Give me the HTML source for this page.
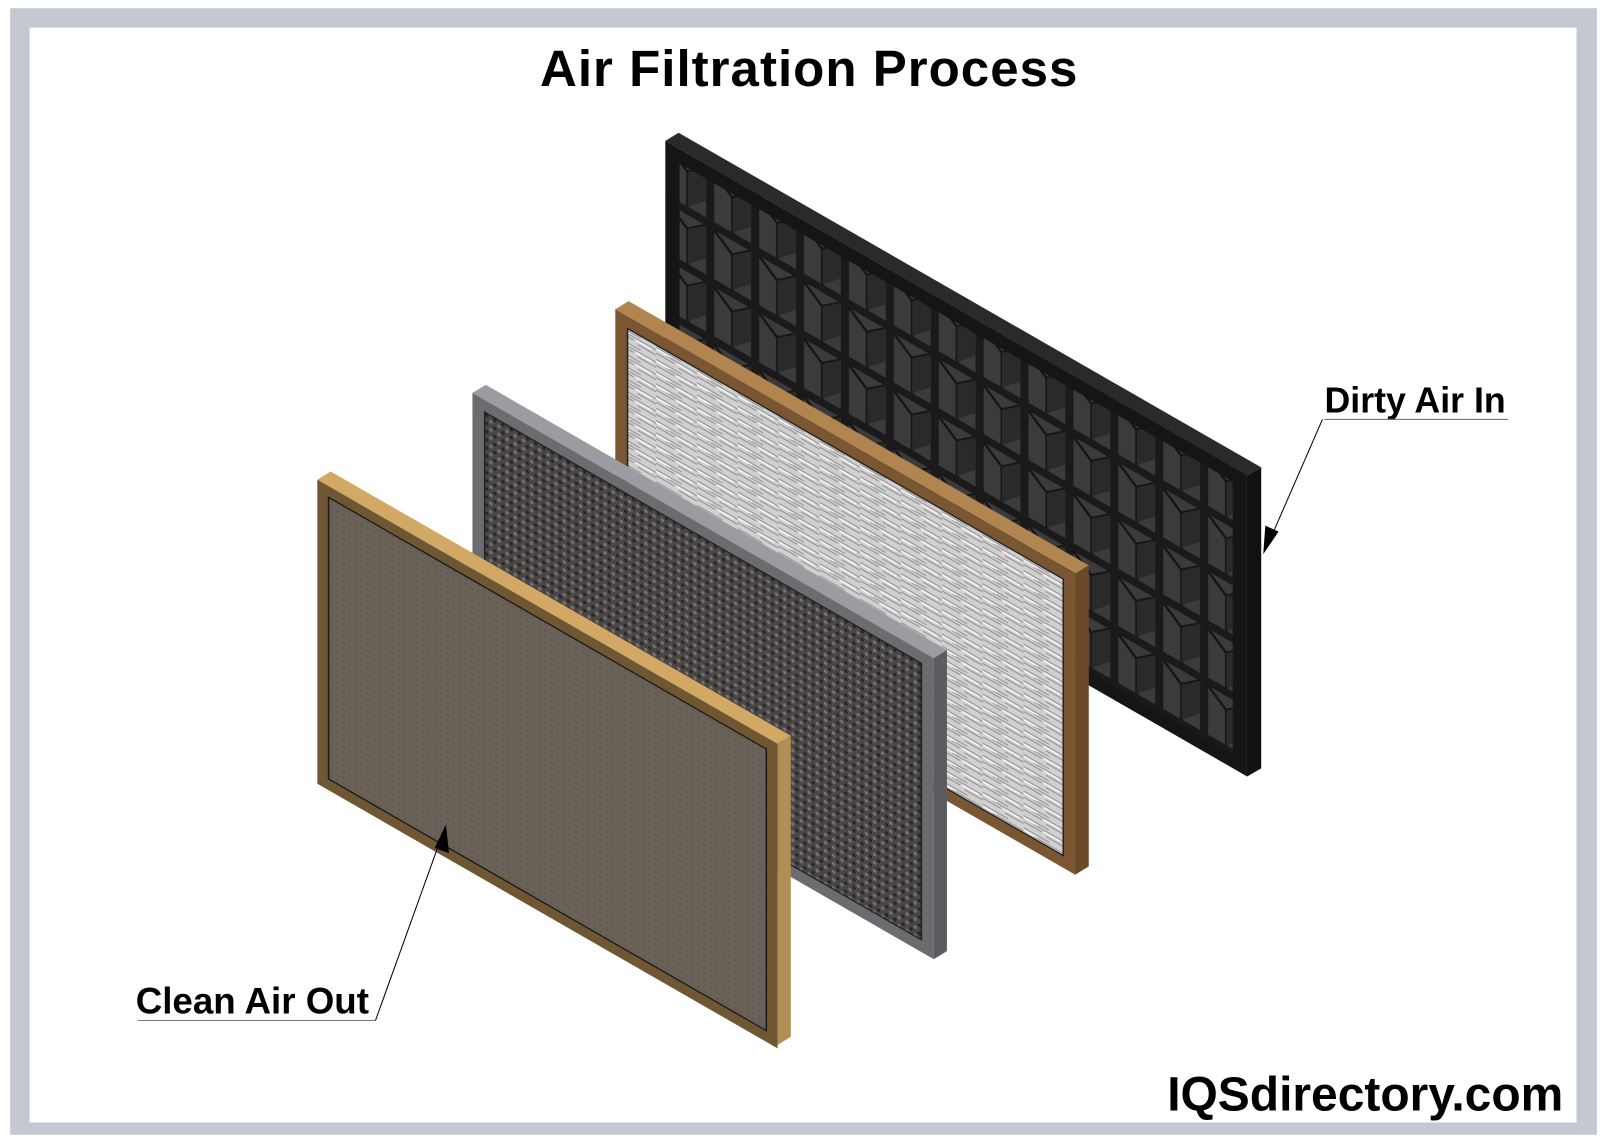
<!DOCTYPE html>
<html><head><meta charset="utf-8"><style>html,body{margin:0;padding:0;background:#fff}svg{display:block}</style></head>
<body>
<svg width="1600" height="1145" viewBox="0 0 1568 1122" xmlns="http://www.w3.org/2000/svg">
<defs>
<pattern id="hex" width="44" height="56" patternUnits="userSpaceOnUse">
<rect width="44" height="56" fill="#1a1a1a"/>
<path d="M4 4 H40 V52 H4 Z" fill="#3c3b3c"/>
<path d="M4 4 L22 18 V52 M22 18 L40 4" stroke="#151515" stroke-width="3" fill="none"/>
<path d="M22 18 L40 4 V36 L22 52 Z" fill="#2b2a2b"/>
</pattern>
<pattern id="fiber" width="40" height="12" patternUnits="userSpaceOnUse">
<rect width="40" height="12" fill="#d0d0d0"/>
<path d="M0 2 H25 M10 5 H40 M0 8 H18 M22 10 H40" stroke="#8a8a8a" stroke-width="1"/>
<path d="M0 4 H14 M20 7 H36" stroke="#fff" stroke-width="1.2"/>
</pattern>
<pattern id="knit" width="8" height="8" patternUnits="userSpaceOnUse">
<rect width="8" height="8" fill="#4a4646"/>
<circle cx="2" cy="2" r="1.6" fill="#7a7575"/>
<circle cx="6" cy="6" r="1.6" fill="#262424"/>
</pattern>
<pattern id="cloth" width="6" height="6" patternUnits="userSpaceOnUse">
<rect width="6" height="6" fill="#6a6259"/>
<rect x="0" y="0" width="3" height="3" fill="#645c53"/>
</pattern>
</defs>
<rect x="10" y="8" width="1555" height="1104" fill="#c3c8d1"/>
<rect x="29" y="27" width="1516" height="1073" fill="#fff"/>
<text x="793" y="84" text-anchor="middle" font-family="Liberation Sans, sans-serif" font-weight="bold" font-size="50" letter-spacing="1" fill="#000">Air Filtration Process</text>

<!-- Panel 1 black -->
<polygon points="652,138 665,130 1236,458 1222,466" fill="#2a2a2a"/>
<polygon points="1222,466 1236,458 1236,753 1222,761" fill="#111"/>
<g transform="matrix(1,0.575,0,1,652,138)">
<rect width="570" height="295" fill="#151515"/>
<rect x="14" y="14" width="542" height="267" fill="url(#hex)"/>
</g>

<!-- Panel 2 fiber -->
<polygon points="603,303 616,295 1067,554 1054,562" fill="#b08550"/>
<polygon points="1054,562 1067,554 1067,849 1054,857" fill="#6b4a2a"/>
<g transform="matrix(1,0.575,0,1,603,303)">
<rect width="451" height="295" fill="#7a5632"/>
<rect x="12" y="12" width="427" height="271" fill="url(#fiber)" stroke="#222" stroke-width="1.5"/>
</g>

<!-- Panel 3 gray -->
<polygon points="463,385 476,377 928,637 915,645" fill="#9a9ca2"/>
<polygon points="915,645 928,637 928,932 915,940" fill="#5a5c60"/>
<g transform="matrix(1,0.575,0,1,463,385)">
<rect width="452" height="295" fill="#6a6c70"/>
<rect x="12" y="12" width="428" height="271" fill="url(#knit)" stroke="#222" stroke-width="1.5"/>
</g>

<!-- Panel 4 front -->
<polygon points="311,470 324,462 775,721 762,729" fill="#d2a865"/>
<polygon points="762,729 775,721 775,1016 762,1024" fill="#b08e55"/>
<g transform="matrix(1,0.575,0,1,311,470)">
<rect width="451" height="298" fill="#6f5733"/>
<rect x="11" y="11" width="429" height="276" fill="url(#cloth)" stroke="#1a1a1a" stroke-width="1.5"/>
</g>

<!-- Labels -->
<g font-family="Liberation Sans, sans-serif" font-weight="bold" fill="#000">
<text x="1298" y="404" font-size="35">Dirty Air In</text>
<text x="133" y="993" font-size="36">Clean Air Out</text>
</g>
<line x1="1298" y1="411" x2="1478" y2="411" stroke="#777" stroke-width="1"/>
<line x1="1296" y1="411" x2="1245" y2="528" stroke="#000" stroke-width="1"/>
<polygon points="1238,543 1240,515 1253,521" fill="#000"/>
<line x1="135" y1="1000" x2="368" y2="1000" stroke="#777" stroke-width="1"/>
<line x1="368" y1="1000" x2="432" y2="822" stroke="#000" stroke-width="1"/>
<polygon points="437,808 440,836 426,831" fill="#000"/>

<text x="1532" y="1088" text-anchor="end" font-family="Liberation Sans, sans-serif" font-weight="bold" font-size="47" fill="#000">IQSdirectory.com</text>
</svg>
</body></html>
